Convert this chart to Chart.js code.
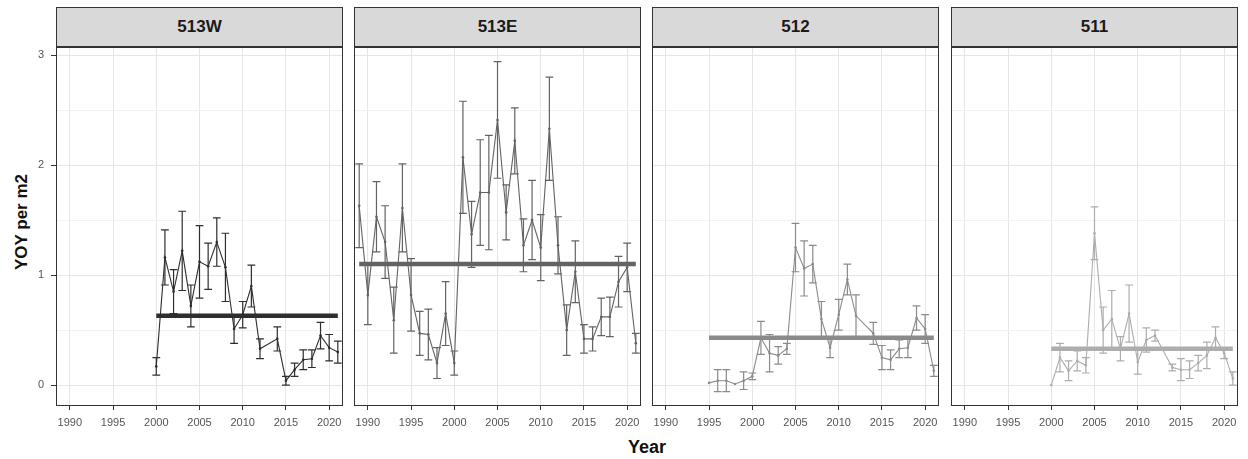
<!DOCTYPE html>
<html>
<head>
<meta charset="utf-8">
<script src="https://cdn.jsdelivr.net/npm/chart.js@4.4.1/dist/chart.umd.min.js"></script>
<style>
  body { margin: 0; background: #fff; width: 1248px; height: 459px; overflow: hidden; position: relative; font-family: "Liberation Sans", Arial, sans-serif; }
  canvas { position: absolute; top: 47px; }
  .strip { position: absolute; top: 7px; height: 38px; background: #d9d9d9; border: 1px solid #333; text-align: center; line-height: 38px; font-weight: bold; font-size: 17px; color: #1a1a1a; box-sizing: content-box; }
  .ytitle { position: absolute; left: 22px; top: 222px; transform: translate(-50%, -50%) rotate(-90deg); font-weight: bold; font-size: 17px; color: #111; white-space: nowrap; }
  .xtitle { position: absolute; left: 647px; top: 447px; transform: translate(-50%, -50%); font-weight: bold; font-size: 18px; color: #111; }
</style>
</head>
<body>
<div class="ytitle">YOY per m2</div>
<div class="xtitle">Year</div>
<script>
// panels (facet labels)
var panelNames = ['513W', '513E', '512', '511'];

// 513W
var years513W = [2000, 2001, 2002, 2003, 2004, 2005, 2006, 2007, 2008, 2009, 2010, 2011, 2012, 2014, 2015, 2016, 2017, 2018, 2019, 2020, 2021];
var mean513W = [0.17, 1.16, 0.85, 1.22, 0.72, 1.12, 1.08, 1.30, 1.07, 0.51, 0.64, 0.90, 0.33, 0.42, 0.04, 0.14, 0.23, 0.24, 0.45, 0.34, 0.30];
var se513W = [0.08, 0.25, 0.20, 0.36, 0.19, 0.33, 0.21, 0.22, 0.31, 0.13, 0.12, 0.19, 0.09, 0.11, 0.04, 0.06, 0.09, 0.08, 0.12, 0.12, 0.10];

// 513E
var years513E = [1989, 1990, 1991, 1992, 1993, 1994, 1995, 1996, 1997, 1998, 1999, 2000, 2001, 2002, 2003, 2004, 2005, 2006, 2007, 2008, 2009, 2010, 2011, 2012, 2013, 2014, 2015, 2016, 2017, 2018, 2019, 2020, 2021];
var mean513E = [1.63, 0.82, 1.53, 1.30, 0.59, 1.61, 0.82, 0.47, 0.46, 0.20, 0.65, 0.20, 2.07, 1.37, 1.75, 1.75, 2.41, 1.57, 2.22, 1.27, 1.50, 1.25, 2.33, 1.27, 0.50, 1.03, 0.42, 0.42, 0.62, 0.62, 0.94, 1.07, 0.38];
var se513E = [0.38, 0.27, 0.32, 0.33, 0.30, 0.40, 0.33, 0.20, 0.23, 0.14, 0.29, 0.11, 0.51, 0.30, 0.48, 0.52, 0.53, 0.25, 0.30, 0.24, 0.36, 0.30, 0.47, 0.26, 0.23, 0.28, 0.13, 0.11, 0.17, 0.18, 0.23, 0.22, 0.09];

// 512
var years512 = [1995, 1996, 1997, 1998, 1999, 2000, 2001, 2002, 2003, 2004, 2005, 2006, 2007, 2008, 2009, 2010, 2011, 2012, 2014, 2015, 2016, 2017, 2018, 2019, 2020, 2021];
var mean512 = [0.02, 0.04, 0.04, 0.01, 0.04, 0.08, 0.43, 0.29, 0.27, 0.33, 1.25, 1.06, 1.10, 0.60, 0.34, 0.64, 0.96, 0.63, 0.47, 0.25, 0.23, 0.33, 0.34, 0.61, 0.51, 0.13];
var se512 = [0, 0.10, 0.10, 0, 0.08, 0.03, 0.15, 0.17, 0.08, 0.05, 0.22, 0.25, 0.17, 0.16, 0.09, 0.14, 0.14, 0.19, 0.10, 0.11, 0.09, 0.08, 0.09, 0.11, 0.13, 0.05];

// 511
var years511 = [2000, 2001, 2002, 2003, 2004, 2005, 2006, 2007, 2008, 2009, 2010, 2011, 2012, 2014, 2015, 2016, 2017, 2018, 2019, 2020, 2021];
var mean511 = [0.00, 0.25, 0.13, 0.22, 0.18, 1.38, 0.50, 0.60, 0.33, 0.65, 0.21, 0.41, 0.45, 0.16, 0.14, 0.14, 0.20, 0.27, 0.43, 0.29, 0.06];
var se511 = [0, 0.13, 0.09, 0.09, 0.07, 0.24, 0.21, 0.26, 0.11, 0.26, 0.11, 0.11, 0.05, 0.03, 0.10, 0.08, 0.07, 0.12, 0.10, 0.05, 0.06];

// long-term mean of each panel (thick horizontal line)
var panelMeans = [0.63, 1.10, 0.43, 0.33];
var xTicks = [1990, 1995, 2000, 2005, 2010, 2015, 2020];
var yTicks = [0, 1, 2, 3];

var allYears = [years513W, years513E, years512, years511];
var allMeans = [mean513W, mean513E, mean512, mean511];
var allSe = [se513W, se513E, se512, se511];
var colors = ['#2e2e2e', '#636363', '#8b8b8b', '#adadad'];
var plotLefts = [56, 354, 652, 951];
var plotW = 287;
var plotH = 359;
var canvasH = 393;

var tickFont = {family: '"Liberation Sans Narrow", "Liberation Sans", Arial, sans-serif', size: 11};

function noPad(s) {
    s.paddingLeft = 0; s.paddingRight = 0; s.paddingTop = 0; s.paddingBottom = 0;
}

// error bars + panel frame
var errorBars = {
    id: 'errorBars',
    afterDatasetsDraw: function (chart) {
        var ctx = chart.ctx;
        var xs = chart.scales.x, ys = chart.scales.y;
        var i = chart.options.plugins.errorBars.panel;
        ctx.save();
        ctx.strokeStyle = colors[i];
        ctx.lineWidth = 1.2;
        for (var k = 0; k < allYears[i].length; k++) {
            var yr = allYears[i][k], m = allMeans[i][k], s = allSe[i][k];
            if (!s) continue;
            var x = xs.getPixelForValue(yr);
            var x0 = xs.getPixelForValue(yr - 0.45), x1 = xs.getPixelForValue(yr + 0.45);
            var yl = ys.getPixelForValue(m - s), yh = ys.getPixelForValue(m + s);
            ctx.beginPath();
            ctx.moveTo(x, yl); ctx.lineTo(x, yh);
            ctx.moveTo(x0, yl); ctx.lineTo(x1, yl);
            ctx.moveTo(x0, yh); ctx.lineTo(x1, yh);
            ctx.stroke();
        }
        ctx.restore();
    },
    afterDraw: function (chart) {
        var a = chart.chartArea, ctx = chart.ctx;
        ctx.save();
        ctx.strokeStyle = '#333';
        ctx.lineWidth = 1;
        ctx.strokeRect(a.left + 0.5, a.top + 0.5, a.right - a.left - 1, a.bottom - a.top - 1);
        ctx.restore();
    }
};

panelNames.forEach(function (name, i) {
    var strip = document.createElement('div');
    strip.className = 'strip';
    strip.style.left = plotLefts[i] + 'px';
    strip.style.width = (plotW - 2) + 'px';
    strip.textContent = name;
    document.body.appendChild(strip);

    var yAxisW = i === 0 ? 56 : 0;
    var cv = document.createElement('canvas');
    cv.width = plotW + yAxisW;
    cv.height = canvasH;
    cv.style.left = (plotLefts[i] - yAxisW) + 'px';
    document.body.appendChild(cv);

    var pts = allYears[i].map(function (y, k) { return {x: y, y: allMeans[i][k]}; });
    var yrs = allYears[i];
    var meanLine = [{x: yrs[0], y: panelMeans[i]}, {x: yrs[yrs.length - 1], y: panelMeans[i]}];

    new Chart(cv.getContext('2d'), {
        type: 'line',
        data: {
            datasets: [
                {data: pts, borderColor: colors[i], backgroundColor: colors[i], borderWidth: 1.1, pointRadius: 1.3, pointBorderWidth: 0, tension: 0},
                {data: meanLine, borderColor: colors[i], borderWidth: 4.5, pointRadius: 0, borderCapStyle: 'butt'}
            ]
        },
        options: {
            responsive: false,
            animation: false,
            layout: {padding: 0, autoPadding: false},
            plugins: {legend: {display: false}, tooltip: {enabled: false}, errorBars: {panel: i}},
            scales: {
                x: {
                    type: 'linear', min: 1988.4, max: 2021.6,
                    afterFit: function (s) { s.height = canvasH - plotH; noPad(s); },
                    afterBuildTicks: function (s) { s.ticks = xTicks.map(function (v) { return {value: v}; }); },
                    ticks: {color: '#555', font: tickFont, padding: 6, maxRotation: 0, autoSkip: false,
                        callback: function (v) { return String(v); }},
                    grid: {color: '#e6e6e6', lineWidth: 1, tickLength: 4, tickColor: '#333'},
                    border: {display: false}
                },
                y: {
                    type: 'linear', min: -0.19, max: 3.073,
                    afterFit: function (s) { s.width = yAxisW; noPad(s); },
                    afterBuildTicks: function (s) {
                        var t = [];
                        for (var v = 0; v <= 3; v += 0.5) t.push({value: v});
                        s.ticks = t;
                    },
                    ticks: {display: i === 0, color: '#555', font: tickFont, padding: 7,
                        callback: function (v) { return yTicks.indexOf(v) >= 0 ? String(v) : ''; }},
                    grid: {
                        drawTicks: i === 0, tickLength: 5,
                        color: function (c) { return c.tick && c.tick.value % 1 === 0 ? '#e6e6e6' : '#f2f2f2'; },
                        tickColor: function (c) { return c.tick && c.tick.value % 1 === 0 ? '#333' : 'rgba(0,0,0,0)'; }
                    },
                    border: {display: false}
                }
            }
        },
        plugins: [errorBars]
    });
});
</script>
</body>
</html>
